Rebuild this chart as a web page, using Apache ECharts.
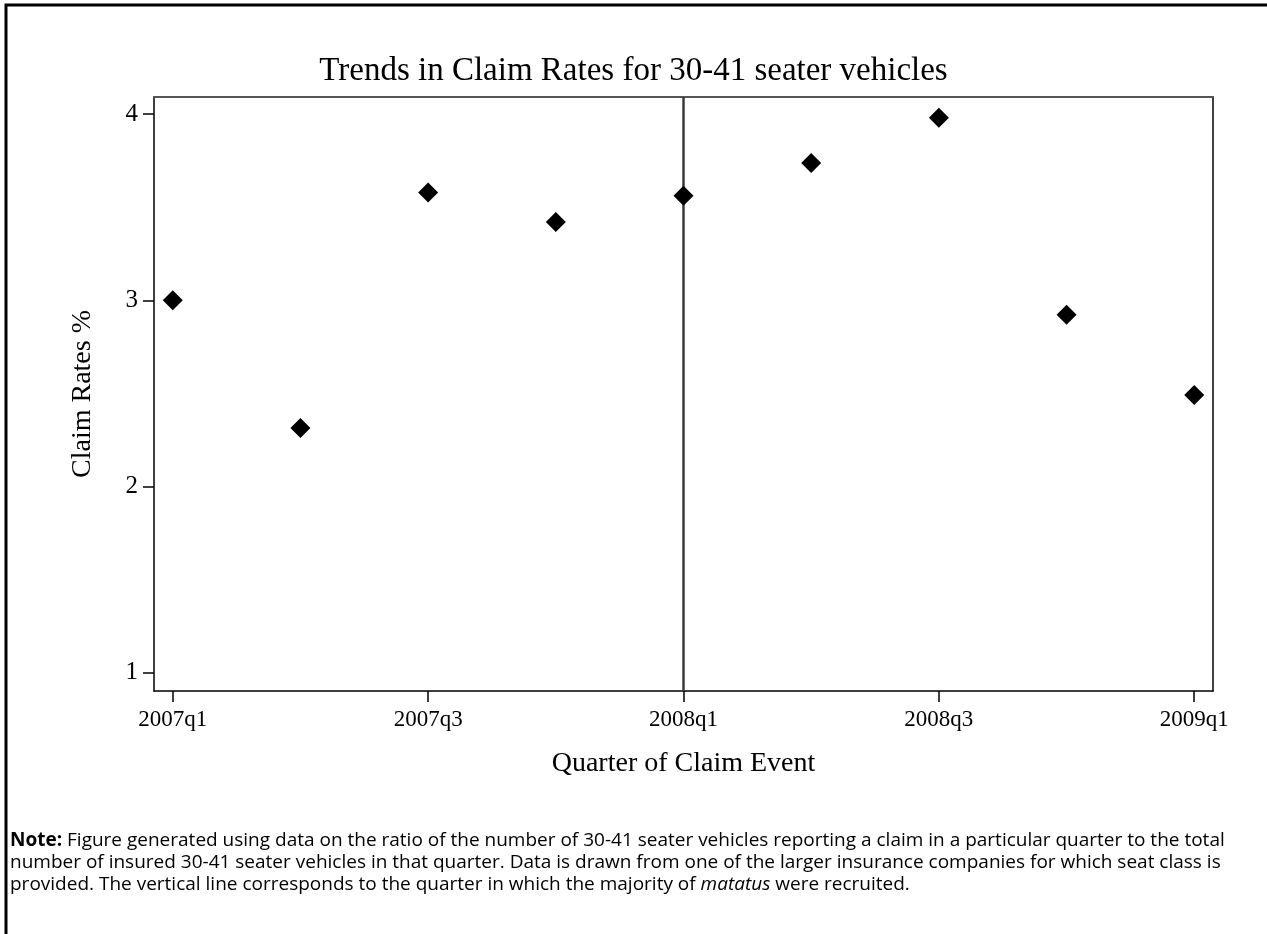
<!DOCTYPE html>
<html>
<head>
<meta charset="utf-8">
<title>Trends in Claim Rates</title>
<script src="https://cdn.jsdelivr.net/npm/echarts@6/dist/echarts.min.js"></script>
<style>
  html, body { margin: 0; padding: 0; background: #fff; }
  #main { width: 1267px; height: 934px; }
</style>
</head>
<body>
<div id="main"></div>
<script>
// 季度（x 轴）与理赔率（%）
var quarters = ['2007q1', '2007q2', '2007q3', '2007q4', '2008q1', '2008q2', '2008q3', '2008q4', '2009q1'];
var claimRates = [3.00, 2.314, 3.578, 3.42, 3.561, 3.737, 3.98, 2.923, 2.492];
var xTickIdx = [0, 2, 4, 6, 8];      // 显示标签的季度
var yTicks = [1, 2, 3, 4];
var recruitIdx = 4;                  // 竖线：2008q1

var serif = 'Liberation Serif';

var chart = echarts.init(document.getElementById('main'));

var points = claimRates.map(function (v, i) { return [i, v]; });

var option = {
    backgroundColor: '#fff',
    animation: false,
    title: {
        text: 'Trends in Claim Rates for 30-41 seater vehicles',
        left: 'center',
        top: 50,
        textStyle: { fontFamily: serif, fontWeight: 'normal', fontSize: 33, color: '#000' }
    },
    grid: { left: 154, top: 97, right: 54, bottom: 243 },
    xAxis: [{
        type: 'value',
        min: -0.147,
        max: 8.147,
        name: 'Quarter of Claim Event',
        nameLocation: 'middle',
        nameGap: 59,
        nameTextStyle: { fontFamily: serif, fontSize: 28, color: '#000' },
        axisLine: { show: true, onZero: false, lineStyle: { color: '#000', width: 1.5 } },
        axisTick: { show: true, length: 11, customValues: xTickIdx, lineStyle: { color: '#000', width: 1.5 } },
        axisLabel: {
            customValues: xTickIdx,
            margin: 17,
            fontFamily: serif, fontSize: 23, color: '#000',
            formatter: function (v) { return quarters[Math.round(v)]; }
        },
        splitLine: { show: false }
    }, {
        type: 'value',
        position: 'top',
        min: -0.147,
        max: 8.147,
        axisLine: { show: true, onZero: false, lineStyle: { color: '#555', width: 2 } },
        axisTick: { show: false },
        axisLabel: { show: false },
        splitLine: { show: false }
    }],
    yAxis: [{
        type: 'value',
        min: 0.903,
        max: 4.091,
        name: 'Claim Rates %',
        nameLocation: 'middle',
        nameGap: 57,
        nameTextStyle: { fontFamily: serif, fontSize: 28, color: '#000' },
        axisLine: { show: true, onZero: false, lineStyle: { color: '#000', width: 1.5 } },
        axisTick: { show: true, length: 11, customValues: yTicks, lineStyle: { color: '#000', width: 1.5 } },
        axisLabel: { customValues: yTicks, margin: 16, fontFamily: serif, fontSize: 25, color: '#000' },
        splitLine: { show: false }
    }, {
        type: 'value',
        position: 'right',
        min: 0.903,
        max: 4.091,
        axisLine: { show: true, onZero: false, lineStyle: { color: '#000', width: 1.5 } },
        axisTick: { show: false },
        axisLabel: { show: false },
        splitLine: { show: false }
    }],
    series: [{
        type: 'scatter',
        data: points,
        symbol: 'diamond',
        symbolSize: 20,
        itemStyle: { color: '#000', opacity: 1 },
        z: 5,
        markLine: {
            silent: true,
            symbol: ['none', 'none'],
            label: { show: false },
            lineStyle: { color: '#3a3a3a', width: 2.5, type: 'solid' },
            data: [{ xAxis: recruitIdx }],
            z: 3
        }
    }],
    graphic: [{
        type: 'rect',
        shape: { x: 6, y: 5, width: 1300, height: 1000 },
        style: { fill: 'none', stroke: '#000', lineWidth: 3 },
        silent: true
    }, {
        type: 'text',
        left: 10,
        top: 830,
        style: {
            text: '{b|Note:} Figure generated using data on the ratio of the number of 30-41 seater vehicles reporting a claim in a particular quarter to the total\n' +
                  'number of insured 30-41 seater vehicles in that quarter. Data is drawn from one of the larger insurance companies for which seat class is\n' +
                  'provided. The vertical line corresponds to the quarter in which the majority of {i|matatus} were recruited.',
            font: '19px "Open Sans"',
            fill: '#000',
            lineHeight: 22,
            rich: {
                b: { fontWeight: 'bold', fontSize: 19, fontFamily: 'Open Sans', lineHeight: 22 },
                i: { fontStyle: 'italic', fontSize: 19, fontFamily: 'Open Sans', lineHeight: 22 }
            }
        },
        silent: true
    }]
};

chart.setOption(option);

window.onresize = function () {
    chart.resize();
};
</script>
</body>
</html>
